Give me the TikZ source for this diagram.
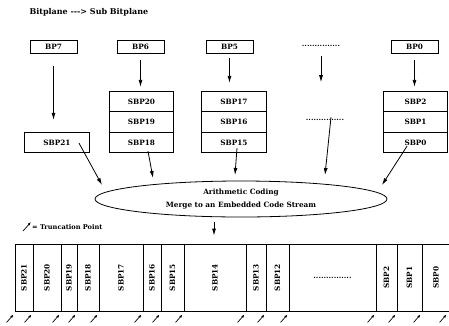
\documentclass[tikz,border=0pt]{standalone}
\usepackage{fontspec}
\setmainfont{DejaVu Serif}
\usetikzlibrary{shapes.geometric,arrows.meta}
\begin{document}
\begin{tikzpicture}[x=1pt,y=-1pt,
  lbl/.style={font=\fontsize{7.3}{9}\selectfont\bfseries},
  bpbox/.style={draw,line width=0.8pt,inner sep=0pt,minimum width=47pt,minimum height=13pt,lbl},
  sbpbox/.style={draw,line width=0.8pt,inner sep=0pt,minimum width=64.5pt,minimum height=20.5pt,lbl},
  cell/.style={draw,line width=0.8pt,inner sep=0pt,minimum height=67pt,lbl},
  arr/.style={line width=0.8pt,-{Latex[length=7pt,width=4pt]}},
  tarr/.style={line width=0.7pt,-{Latex[length=3.5pt,width=2.5pt]}}]
\useasboundingbox (0,0) rectangle (449,325);
% title
\node[lbl,anchor=west,font=\fontsize{8}{9}\selectfont\bfseries] (title) at (26,12) {Bitplane -{}-{}-> Sub Bitplane};
% bitplanes
\node[bpbox] (bp7) at (53.5,46.5) {BP7};
\node[bpbox] (bp6) at (140.5,46.5) {BP6};
\node[bpbox] (bp5) at (229.5,46.5) {BP5};
\node[lbl] (dots1) at (321,46) {...............};
\node[bpbox] (bp0) at (414.5,46.5) {BP0};
% sub bitplanes
\node[sbpbox] (sbp21) at (57,142.5) {SBP21};
\node[sbpbox] (sbp20) at (141.5,101.5) {SBP20};
\node[sbpbox] (sbp19) at (141.5,122) {SBP19};
\node[sbpbox] (sbp18) at (141.5,142.5) {SBP18};
\node[sbpbox] (sbp17) at (234,101.5) {SBP17};
\node[sbpbox] (sbp16) at (234,122) {SBP16};
\node[sbpbox] (sbp15) at (234,142.5) {SBP15};
\node[lbl] (dots2) at (325,120) {...............};
\node[sbpbox] (sbp2) at (415.5,101.5) {SBP2};
\node[sbpbox] (sbp1) at (415.5,122) {SBP1};
\node[sbpbox] (sbp0) at (415.5,142.5) {SBP0};
% arrows down
\draw[arr] ([yshift=-13pt]bp7.south) -- ([yshift=12pt]sbp21.north -| bp7.south);
\draw[arr] ([yshift=-7pt]bp6.south) -- ([yshift=4pt]sbp20.north -| bp6.south);
\draw[arr] ([yshift=-5pt]bp5.south) -- ([yshift=8pt]sbp17.north -| bp5.south);
\draw[arr] ([yshift=-6pt]dots1.south) -- ++(0,26);
\draw[arr] ([yshift=-7pt]bp0.south) -- ([yshift=4pt]sbp2.north -| bp0.south);
% coder
\node[draw,ellipse,line width=0.8pt,minimum width=292pt,minimum height=36pt,inner sep=0pt,
  lbl,align=center] (code) at (241,199) {Arithmetic Coding\\[3.5pt]Merge to an Embedded Code Stream};
\coordinate (e1) at (102,185);
\coordinate (e2) at (153,178);
\coordinate (e3) at (235,175);
\coordinate (e4) at (325,175);
\coordinate (e5) at (382,185);
\draw[arr] ([shift={(22,-10)}]sbp21.south) -- (e1);
\draw[arr] ([shift={(6.5,-2)}]sbp18.south) -- (e2);
\draw[arr] ([shift={(3,-5)}]sbp15.south) -- (e3);
\draw[arr] ([shift={(6,-7)}]dots2.south) -- (e4);
\draw[arr] ([shift={(-8.5,-7)}]sbp0.south) -- (e5);
% legend
\coordinate (lg0) at (23,231);
\coordinate (lg1) at (31,222);
\draw[tarr] (lg0) -- (lg1);
\node[font=\fontsize{6.6}{7}\selectfont\bfseries,anchor=west,inner sep=0pt] (legend) at (32,227.5) {= Truncation Point};
% strip
\foreach \l/\r/\t [count=\i] in {15/33/SBP21,33/61/SBP20,61/77/SBP19,77/99/SBP18,99/143/SBP17,
  143/161/SBP16,161/184/SBP15,184/246/SBP14,246/266/SBP13,266/289/SBP12,289/376/{...............},
  376/397/SBP2,397/422/SBP1,422/470/SBP0}{
  \pgfmathsetmacro{\w}{\r-\l}
  \pgfmathsetmacro{\c}{(\l+\r)/2}
  \ifnum\i=11
    \node[cell,minimum width=\w pt] (c\i) at (\c,277.5) {\t};
  \else
    \ifnum\i=14
      \node[cell,minimum width=\w pt] (c\i) at (\c,277.5) {};
      \node[lbl,rotate=90] (t\i) at (436,277.5) {\t};
    \else
      \node[cell,minimum width=\w pt] (c\i) at (\c,277.5) {};
      \node[lbl,rotate=90] (t\i) at (c\i) {\t};
    \fi
  \fi
}
\draw[arr] ([yshift=-5pt]code.south -| c8.north) ++(-1,0) coordinate (s0) -- ([yshift=8pt]c8.north -| s0);
% truncation points
\foreach \i in {1,...,14}{
  \draw[tarr] ([shift={(-8,11)}]c\i.south west) -- ([shift={(-1,3)}]c\i.south west);
}
\draw[tarr] ([shift={(-8,11)}]c14.south west) ++(26,0) -- ++(7,-8);
\end{tikzpicture}
\end{document}
